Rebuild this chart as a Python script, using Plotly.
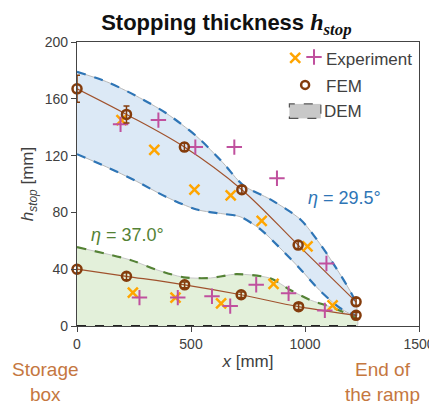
import plotly.graph_objects as go

# ---------------- data ----------------
# FEM (eta = 29.5 deg)
fem_hi_x = [0, 217, 471, 723, 970, 1224]
fem_hi_y = [167, 149, 126, 96, 57, 17]
fem_hi_err = [9.5, 6, 3, 2.5, 2.5, 2.5]
# FEM (eta = 37.0 deg)
fem_lo_x = [0, 217, 472, 720, 972, 1224]
fem_lo_y = [40, 35, 29, 22, 13.6, 7.5]
fem_lo_err = [2.5, 2.5, 2, 2, 2, 2]

# Experiment, eta = 29.5
exp_hi_x_x = [195, 339, 515, 674, 810, 1011]
exp_hi_x_y = [145, 124, 96, 92, 74, 56]
exp_hi_p_x = [191, 357, 519, 690, 877, 1094]
exp_hi_p_y = [142, 145, 126, 126, 104, 44]
# Experiment, eta = 37.0
exp_lo_x_x = [245, 432, 632, 862, 1121]
exp_lo_x_y = [23.5, 20, 16, 29.6, 14.5]
exp_lo_p_x = [274, 442, 592, 672, 786, 928, 1087]
exp_lo_p_y = [20, 20, 21, 14, 29, 23, 11]

# DEM envelope, eta = 29.5
dem_hi_top_x = [0, 130, 260, 390, 525, 640, 730, 850, 980, 1065, 1140, 1210, 1227]
dem_hi_top_y = [179, 172, 162, 150, 133.5, 115, 99, 89, 75, 58, 40, 21, 13]
dem_hi_bot_x = [0, 130, 260, 390, 525, 640, 715, 805, 890, 980, 1065, 1155, 1227]
dem_hi_bot_y = [121, 112, 102, 91, 82, 79, 77, 68, 55, 40, 25, 12.5, 7]
# DEM envelope, eta = 37.0 (lower bound is zero)
dem_lo_top_x = [0, 234, 351, 468, 585, 700, 848, 935, 1023, 1110, 1212, 1228]
dem_lo_top_y = [55.5, 46.5, 39.5, 34.3, 33.8, 36.5, 33.6, 25.4, 18.3, 13.6, 6.6, 5]
dem_lo_bot_x = [0, 1228]
dem_lo_bot_y = [0, 0]

x_ticks = [0, 500, 1000, 1500]
y_ticks = [0, 40, 80, 120, 160, 200]

BLUE = "#2e75b6"
BLUE_FILL = "#dce9f6"
GREEN = "#548235"
GREEN_FILL = "#e3f0da"
ORANGE = "#ffa500"
MAGENTA = "#c0509e"
BROWN = "#843c0c"
TEXT_ORANGE = "#c5773f"
FONT = "Arial, Liberation Sans, sans-serif"

fig = go.Figure()

# DEM bands
fig.add_trace(go.Scatter(
    x=dem_hi_top_x + dem_hi_bot_x[::-1], y=dem_hi_top_y + dem_hi_bot_y[::-1],
    fill="toself", fillcolor=BLUE_FILL, mode="lines",
    line=dict(color="#b8b8b8", width=1, shape="spline", smoothing=0.8),
    hoverinfo="skip", showlegend=False))
fig.add_trace(go.Scatter(
    x=dem_lo_top_x + dem_lo_bot_x[::-1], y=dem_lo_top_y + dem_lo_bot_y[::-1],
    fill="toself", fillcolor=GREEN_FILL, mode="lines",
    line=dict(color="#c8c8c8", width=1, shape="spline", smoothing=0.8),
    hoverinfo="skip", showlegend=False))
for xs, ys, col in [(dem_hi_top_x, dem_hi_top_y, BLUE), (dem_hi_bot_x, dem_hi_bot_y, BLUE),
                    (dem_lo_top_x, dem_lo_top_y, GREEN), (dem_lo_bot_x, dem_lo_bot_y, "#222222")]:
    fig.add_trace(go.Scatter(x=xs, y=ys, mode="lines",
                             line=dict(color=col, width=2.2, dash="dash", shape="spline", smoothing=0.8),
                             hoverinfo="skip", showlegend=False))

# FEM curves
for xs, ys in [(fem_hi_x, fem_hi_y), (fem_lo_x, fem_lo_y)]:
    fig.add_trace(go.Scatter(x=xs, y=ys, mode="lines",
                             line=dict(color="#a0522d", width=1.2, shape="spline"),
                             showlegend=False, hoverinfo="skip"))

# Experiment markers
for xs, ys in [(exp_hi_x_x, exp_hi_x_y), (exp_lo_x_x, exp_lo_x_y)]:
    fig.add_trace(go.Scatter(x=xs, y=ys, mode="markers",
                             marker=dict(symbol="x-thin", size=10, color=ORANGE,
                                         line=dict(color=ORANGE, width=2.5)),
                             showlegend=False))
for xs, ys in [(exp_hi_p_x, exp_hi_p_y), (exp_lo_p_x, exp_lo_p_y)]:
    fig.add_trace(go.Scatter(x=xs, y=ys, mode="markers",
                             marker=dict(symbol="cross-thin", size=11, color=MAGENTA,
                                         line=dict(color=MAGENTA, width=2)),
                             showlegend=False))

# FEM markers with error bars
for xs, ys, err in [(fem_hi_x, fem_hi_y, fem_hi_err), (fem_lo_x, fem_lo_y, fem_lo_err)]:
    fig.add_trace(go.Scatter(x=xs, y=ys, mode="markers",
                             marker=dict(symbol="circle-open", size=9, color=BROWN,
                                         line=dict(color=BROWN, width=2.5)),
                             error_y=dict(type="data", array=err, color=BROWN, thickness=1.5, width=3),
                             showlegend=False, cliponaxis=False))

# custom legend on overlay axes
fig.add_trace(go.Scatter(x=[0.638], y=[0.944], xaxis="x2", yaxis="y2", mode="markers",
                         marker=dict(symbol="x-thin", size=10, color=ORANGE, line=dict(color=ORANGE, width=2.5)),
                         showlegend=False, hoverinfo="skip"))
fig.add_trace(go.Scatter(x=[0.693], y=[0.947], xaxis="x2", yaxis="y2", mode="markers",
                         marker=dict(symbol="cross-thin", size=11, color=MAGENTA, line=dict(color=MAGENTA, width=2)),
                         showlegend=False, hoverinfo="skip"))
fig.add_trace(go.Scatter(x=[0.667], y=[0.849], xaxis="x2", yaxis="y2", mode="markers",
                         marker=dict(symbol="circle-open", size=8, color=BROWN, line=dict(color=BROWN, width=2.5)),
                         showlegend=False, hoverinfo="skip"))

fig.add_shape(type="rect", xref="paper", yref="paper", x0=0.621, x1=0.713, y0=0.731, y1=0.782,
              fillcolor="#c8c8c8", line=dict(color="#555555", width=1.2, dash="dash"))

ann_font = dict(family=FONT, size=17, color="#404040")
annotations = [
    dict(x=0.722, y=0.940, xref="paper", yref="paper", text="Experiment", showarrow=False,
         xanchor="left", yanchor="middle", font=ann_font),
    dict(x=0.722, y=0.845, xref="paper", yref="paper", text="FEM", showarrow=False,
         xanchor="left", yanchor="middle", font=ann_font),
    dict(x=0.716, y=0.757, xref="paper", yref="paper", text="DEM", showarrow=False,
         xanchor="left", yanchor="middle", font=ann_font),
    dict(x=1172, y=90, xref="x", yref="y", text="<i>η</i> = 29.5°", showarrow=False,
         xanchor="center", yanchor="middle", font=dict(family=FONT, size=18, color=BLUE)),
    dict(x=221, y=64, xref="x", yref="y", text="<i>η</i> = 37.0°", showarrow=False,
         xanchor="center", yanchor="middle", font=dict(family=FONT, size=18, color=GREEN)),
    dict(x=-0.092, y=-0.11, xref="paper", yref="paper", text="Storage<br>box", showarrow=False,
         xanchor="center", yanchor="top", align="center",
         font=dict(family=FONT, size=19, color=TEXT_ORANGE)),
    dict(x=0.892, y=-0.11, xref="paper", yref="paper", text="End of<br>the ramp", showarrow=False,
         xanchor="center", yanchor="top", align="center",
         font=dict(family=FONT, size=19, color=TEXT_ORANGE)),
]

# page body has an 8px margin, so the figure is sized to fit the 437x404 window
fig.update_layout(
    width=429, height=396,
    margin=dict(l=68.5, r=18, t=34, b=78, autoexpand=False),
    paper_bgcolor="white", plot_bgcolor="white",
    title=dict(text="<b>Stopping thickness </b><span style=\"font-family:'Liberation Serif', 'DejaVu Serif', serif;font-size:24px\"><b><i>h</i><sub><i>stop</i></sub></b></span>",
               x=0.509, xref="container", xanchor="center", y=0.964, yanchor="middle",
               automargin=False,
               font=dict(family=FONT, size=22, color="#111111")),
    xaxis=dict(range=[0, 1500], tickvals=x_ticks, showgrid=False, zeroline=False,
               showline=True, mirror=True, linecolor="#444444", linewidth=1.3,
               ticks="outside", ticklen=5, tickcolor="#444444", automargin=False,
               tickfont=dict(family=FONT, size=14, color="#404040"),
               title=dict(text="<i>x</i> [mm]", standoff=4,
                          font=dict(family=FONT, size=17, color="#404040"))),
    yaxis=dict(range=[0, 200], tickvals=y_ticks, showgrid=False, zeroline=False,
               showline=True, mirror=True, linecolor="#444444", linewidth=1.3,
               ticks="outside", ticklen=5, tickcolor="#444444", automargin=False,
               tickfont=dict(family=FONT, size=14, color="#404040"),
               title=dict(text="<i>h</i><sub><i>stop</i></sub> [mm]", standoff=6,
                          font=dict(family=FONT, size=17, color="#404040"))),
    xaxis2=dict(range=[0, 1], overlaying="x", visible=False, fixedrange=True),
    yaxis2=dict(range=[0, 1], overlaying="y", visible=False, fixedrange=True),
    annotations=annotations,
)

fig.write_html("out.html")
